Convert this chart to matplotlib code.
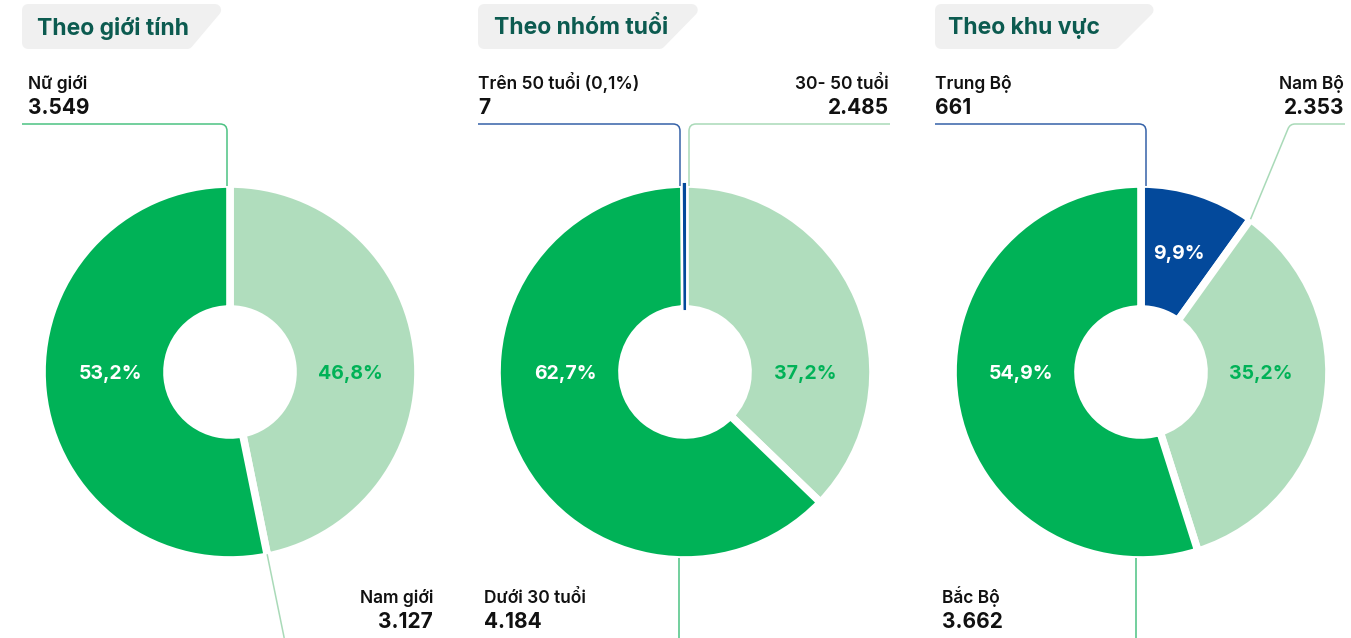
import matplotlib.pyplot as plt
import numpy as np
from matplotlib.patches import PathPatch, Polygon
from matplotlib.path import Path

plt.rcParams["font.family"] = ["Inter", "DejaVu Sans"]

W, H = 1351, 638

titles = ["Theo giới tính", "Theo nhóm tuổi", "Theo khu vực"]

gender_labels = ["Nam giới", "Nữ giới"]
gender_counts = ["3.127", "3.549"]
gender_pct = [46.8, 53.2]

age_labels = ["30- 50 tuổi", "Dưới 30 tuổi", "Trên 50 tuổi (0,1%)"]
age_counts = ["2.485", "4.184", "7"]
age_pct = [37.2, 62.7, 0.1]

region_labels = ["Trung Bộ", "Nam Bộ", "Bắc Bộ"]
region_counts = ["661", "2.353", "3.662"]
region_pct = [9.9, 35.2, 54.9]

DARK = "#00B257"
LIGHT = "#B0DDBD"
BLUE = "#03499B"
LINE_DARK = "#4CC283"
LINE_LIGHT = "#A9DAB8"
LINE_BLUE = "#3562A8"
TITLE = "#0C5B50"
TAB = "#F0F0F0"

R = 186
HOLE = 63
CY = 372


def to_ax(x, y):
    return x, H - y


def boundary(cx, cum, r):
    a = np.deg2rad(3.6 * cum)
    return cx + r * np.sin(a), CY - r * np.cos(a)


def title_tab(ax, left, right_top, right_bottom, text, text_x, top=4, bottom=49, pad=6):
    dx, dy = right_top - right_bottom, bottom - top
    shift = pad * np.hypot(dx, dy) / dy
    slope = dx / dy
    x_top = right_top - shift - pad * slope
    x_bot = right_top - shift - (dy - pad) * slope
    pts = [(left + pad, top + pad), (x_top, top + pad), (x_bot, bottom - pad), (left + pad, bottom - pad)]
    ax.add_patch(Polygon([to_ax(*p) for p in pts], closed=True, facecolor=TAB,
                         edgecolor=TAB, linewidth=pad * 2 * 0.72, joinstyle="round"))
    ax.text(*to_ax(text_x, 28), text, fontsize=16.5, fontweight="bold", color=TITLE,
            ha="left", va="center")


def leader(ax, pts, color, r=7):
    pts = [np.array(to_ax(x, y), float) for x, y in pts]
    verts, codes = [pts[0]], [Path.MOVETO]
    for a, b, c in zip(pts[:-2], pts[1:-1], pts[2:]):
        u = (a - b) / np.linalg.norm(a - b)
        v = (c - b) / np.linalg.norm(c - b)
        verts += [b + u * r, b, b + v * r]
        codes += [Path.LINETO, Path.CURVE3, Path.CURVE3]
    verts.append(pts[-1])
    codes.append(Path.LINETO)
    ax.add_patch(PathPatch(Path(verts, codes), fill=False, edgecolor=color, linewidth=1.1,
                           capstyle="butt", zorder=1))


def label(ax, x, y, name, value, ha="left"):
    ax.text(*to_ax(x, y), name, fontsize=12.5, fontweight="semibold", color="#111111",
            ha=ha, va="baseline")
    ax.text(*to_ax(x, y + 25), value, fontsize=15, fontweight="bold", color="#111111",
            ha=ha, va="baseline")


def donut(ax, cx, pct, colors, text_colors):
    wedges, _ = ax.pie(pct, colors=colors, startangle=90, counterclock=False, radius=R + 2,
                       center=to_ax(cx, CY), frame=True,
                       wedgeprops=dict(width=R + 2 - HOLE, edgecolor="white", linewidth=5.5))
    cum = 0
    for p, tc in zip(pct, text_colors):
        mid = np.deg2rad(3.6 * (cum + p / 2))
        cum += p
        if tc is None:
            continue
        if p > 20:
            x, y = cx + np.sign(np.sin(mid)) * 120, CY + 2
        else:
            x, y = cx + 124 * np.sin(mid), CY - 124 * np.cos(mid)
        ax.text(*to_ax(x, y), f"{p:.1f}%".replace(".", ","), fontsize=14, fontweight="bold",
                color=tc, ha="center", va="center", zorder=5)
    return wedges


fig = plt.figure(figsize=(W / 100, H / 100), dpi=100)
ax = fig.add_axes([0, 0, 1, 1])

# gender
cx1 = 230
donut(ax, cx1, gender_pct, [LIGHT, DARK], [DARK, "white"])
title_tab(ax, 22, 228, 190, titles[0], 37)
label(ax, 28, 89, gender_labels[1], gender_counts[1])
leader(ax, [(22, 124), (cx1 - 3, 124), (cx1 - 3, CY - R)], LINE_DARK)
label(ax, 433, 603, gender_labels[0], gender_counts[0], ha="right")
x0, y0 = boundary(cx1, gender_pct[0], R)
x1, y1 = boundary(cx1, gender_pct[0], (H - CY) / -np.cos(np.deg2rad(3.6 * gender_pct[0])))
leader(ax, [(x0, y0), (x1, y1)], LINE_LIGHT)

# age groups
cx2 = 685
wedges = donut(ax, cx2, age_pct, [LIGHT, DARK, BLUE], [DARK, "white", None])
wedges[2].set_edgecolor(BLUE)
wedges[2].set_linewidth(1.5)
wedges[2].set_zorder(3)
title_tab(ax, 478, 706, 662, titles[1], 494)
label(ax, 478, 89, age_labels[2], age_counts[2])
leader(ax, [(478, 124), (cx2 - 5, 124), (cx2 - 5, CY - R)], LINE_BLUE)
label(ax, 889, 89, age_labels[0], age_counts[0], ha="right")
leader(ax, [(890, 124), (cx2 + 4, 124), (cx2 + 4, CY - R)], LINE_LIGHT)
label(ax, 484, 603, age_labels[1], age_counts[1])
leader(ax, [(cx2 - 6, CY + R), (cx2 - 6, H)], LINE_DARK)

# regions
cx3 = 1141
donut(ax, cx3, region_pct, [BLUE, LIGHT, DARK], ["white", DARK, "white"])
title_tab(ax, 935, 1162, 1117, titles[2], 948)
label(ax, 935, 89, region_labels[0], region_counts[0])
leader(ax, [(935, 124), (cx3 + 5, 124), (cx3 + 5, CY - R)], LINE_BLUE)
label(ax, 1344, 89, region_labels[1], region_counts[1], ha="right")
xb, yb = boundary(cx3, region_pct[0], R + 2)
leader(ax, [(1345, 124), (1290, 124), (xb, yb)], LINE_LIGHT, r=5)
label(ax, 942, 603, region_labels[2], region_counts[2])
leader(ax, [(cx3 - 5, CY + R), (cx3 - 5, H)], LINE_DARK)

ax.set_xlim(0, W)
ax.set_ylim(0, H)
ax.set_aspect("equal")
ax.axis("off")

fig.savefig("out.png", dpi=100, facecolor="white")
